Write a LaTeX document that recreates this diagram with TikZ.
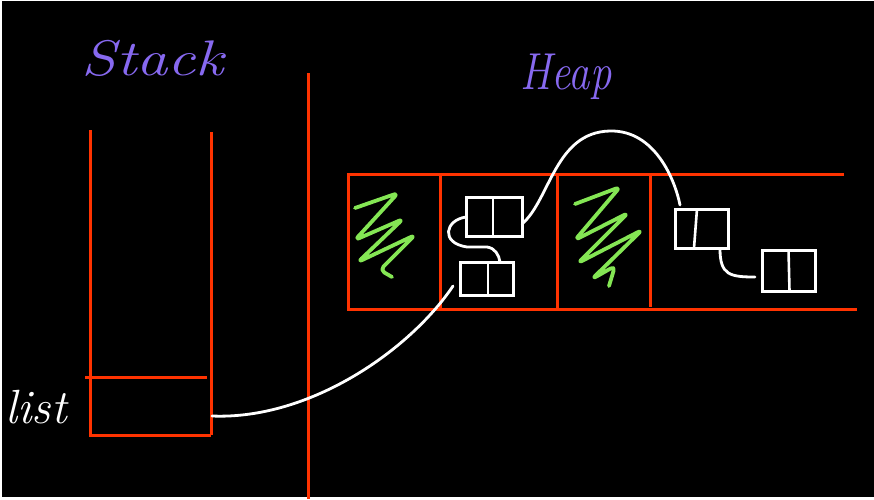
\documentclass[tikz,border=0pt]{standalone}
\usetikzlibrary{calc}
\definecolor{redline}{RGB}{255,51,0}
\definecolor{zig}{RGB}{132,230,84}
\definecolor{labelc}{RGB}{135,105,240}
\begin{document}
\begin{tikzpicture}[x=1pt,y=-1pt,
  redl/.style={draw=redline,line width=3pt},
  wire/.style={draw=white,line width=2.8pt,line cap=round},
  cellbox/.style={draw=white,line width=3pt,inner sep=0pt,outer sep=0pt},
  divl/.style={draw=white,line width=2.6pt},
  zz/.style={draw=zig,line width=3.8pt,line cap=round,line join=round,rounded corners=5pt},
  hand/.style={inner sep=0pt,anchor=base,font=\itshape}]
\useasboundingbox (0,0) rectangle (874,499);
\fill[white] (0,0) rectangle (874,499);
\fill[black] (1.5,1) rectangle (874,497);

% titles
\node[hand,text=labelc,font=\itshape\fontsize{50}{50}\selectfont,xscale=1.25] (stacklbl) at (153,75) {Stack};
\node[hand,text=labelc,font=\itshape\fontsize{52}{52}\selectfont,xscale=0.82] (heaplbl) at (566,89) {Heap};
\node[hand,text=white,font=\itshape\fontsize{48}{48}\selectfont] (listlbl) at (36,423) {list};

% stack
\draw[redl] (90,130) -- (90,435) -- (211,435);
\draw[redl] (211,132) -- (211,435);
\draw[redl] (85,377) -- (207,377);
% divider
\draw[redl] (308,73) -- (308,499);

% heap
\draw[redl] (844,174) -- (348,174) -- (348,311);
\draw[redl] (348,309) -- (857,309);
\draw[redl] (440,174) -- (440,309);
\draw[redl] (557,174) -- (557,309);
\draw[redl] (650,174) -- (650,307);

% garbage scribbles
\draw[zz] (355,208) -- (398,193) -- (355,240) -- (403,219) -- (358,262) -- (415,235) -- (380,270) -- (392,277);
\draw[zz] (575,204) -- (620,187) -- (575,240) -- (628,213) -- (578,263) -- (642,230) -- (592,279) -- (615,266) -- (609,286);

% list nodes
\node[cellbox,minimum width=56pt,minimum height=39pt] (A) at (494,216.5) {};
\node[cellbox,minimum width=53pt,minimum height=33pt] (B) at (486.5,278.5) {};
\node[cellbox,minimum width=53pt,minimum height=39pt] (C) at (701.5,228.5) {};
\node[cellbox,minimum width=53pt,minimum height=41pt] (D) at (788.5,270.5) {};
\draw[divl] ($(A.north)+(-1,0)$) -- ($(A.south)+(-1,0)$);
\draw[divl] ($(B.north)+(1.5,0)$) -- ($(B.south)+(1.5,0)$);
\draw[divl] ($(C.north)+(-4.5,0)$) -- ($(C.south)+(-7.5,0)$);
\draw[divl] ($(D.north)+(0,0)$) -- ($(D.south)+(1,0)$);

% connector ends
\coordinate (listcell) at (212,416);
\coordinate (Bend) at (453,286);
\coordinate (Aout) at (522,224);
\coordinate (top) at (610,131);
\coordinate (Cend) at (680,205);
\coordinate (Aleft) at (466,217);
\coordinate (Btop) at (500,262);
\coordinate (Cout) at (720,249);
\coordinate (Dend) at (755,277);

% pointers
\draw[wire] (listcell) .. controls (310,420) and (410,350) .. (Bend);
\draw[wire] (Aout) .. controls (550,200) and (555,132) .. (top) .. controls (655,130) and (675,180) .. (Cend);
\draw[wire] (Aleft) .. controls (445,220) and (440,243) .. (467,247) -- (487,247) .. controls (495,248) and (499,255) .. (Btop);
\draw[wire] (Cout) .. controls (720,275) and (730,277) .. (Dend);
\end{tikzpicture}
\end{document}
